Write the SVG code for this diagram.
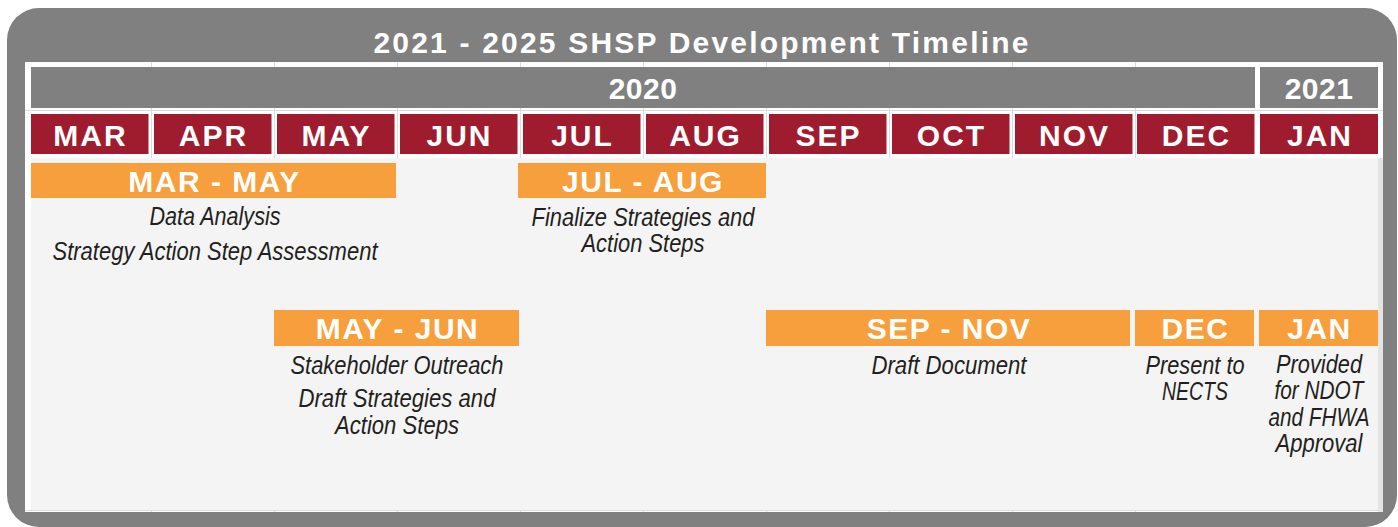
<svg xmlns="http://www.w3.org/2000/svg" width="1398" height="527" viewBox="0 0 1398 527">
<style>
.bold{font-family:"Liberation Sans",Arial,sans-serif;font-weight:bold;fill:#ffffff;text-anchor:middle}
.title{font-size:30px;letter-spacing:2.2px}
.year{font-size:30px;letter-spacing:0.5px}
.mon{font-size:30px;letter-spacing:2px}
.span{font-size:30px;letter-spacing:1.5px}
.desc{font-family:"Liberation Sans",Arial,sans-serif;font-style:italic;font-size:25px;fill:#231f20;text-anchor:middle}
.red{fill:#9e1c2e}
.org{fill:#f79f3d}
.hdr{fill:#808080}
.grid{stroke:#dcdcdc;stroke-width:1}
</style>
<rect x="7" y="8" width="1390" height="519" rx="32" fill="#808080"/>
<rect x="25" y="62" width="1358" height="450" fill="#ffffff"/>
<g class="grid">
<line x1="151.5" y1="62" x2="151.5" y2="512"/><line x1="274.5" y1="62" x2="274.5" y2="512"/><line x1="397.5" y1="62" x2="397.5" y2="512"/><line x1="520.5" y1="62" x2="520.5" y2="512"/><line x1="643.5" y1="62" x2="643.5" y2="512"/><line x1="766.5" y1="62" x2="766.5" y2="512"/><line x1="889.5" y1="62" x2="889.5" y2="512"/><line x1="1012.5" y1="62" x2="1012.5" y2="512"/><line x1="1135.5" y1="62" x2="1135.5" y2="512"/>
<line x1="25" y1="110.5" x2="1383" y2="110.5"/><line x1="25" y1="510.5" x2="1383" y2="510.5"/>
</g>
<rect x="31" y="158" width="1347" height="352" fill="#f4f4f4"/>
<rect x="1378" y="158" width="5" height="354" fill="#e4e4e4"/>
<text class="bold title" x="702" y="53">2021 - 2025 SHSP Development Timeline</text>
<g id="year-2020"><rect class="hdr" x="31" y="67" width="1224" height="41"/><text class="bold year" x="643" y="99">2020</text></g>
<g id="year-2021"><rect class="hdr" x="1260" y="67" width="118" height="41"/><text class="bold year" x="1319" y="99">2021</text></g>
<g id="months">
<g id="m-mar"><rect class="red" x="31" y="114" width="117.5" height="40"/><text class="bold mon" x="90.5" y="146">MAR</text></g>
<g id="m-apr"><rect class="red" x="154" y="114" width="117.5" height="40"/><text class="bold mon" x="213.5" y="146">APR</text></g>
<g id="m-may"><rect class="red" x="277" y="114" width="117.5" height="40"/><text class="bold mon" x="336.5" y="146">MAY</text></g>
<g id="m-jun"><rect class="red" x="400" y="114" width="117.5" height="40"/><text class="bold mon" x="459.5" y="146">JUN</text></g>
<g id="m-jul"><rect class="red" x="523" y="114" width="117.5" height="40"/><text class="bold mon" x="582.5" y="146">JUL</text></g>
<g id="m-aug"><rect class="red" x="646" y="114" width="117.5" height="40"/><text class="bold mon" x="705.5" y="146">AUG</text></g>
<g id="m-sep"><rect class="red" x="769" y="114" width="117.5" height="40"/><text class="bold mon" x="828.5" y="146">SEP</text></g>
<g id="m-oct"><rect class="red" x="892" y="114" width="117.5" height="40"/><text class="bold mon" x="951.5" y="146">OCT</text></g>
<g id="m-nov"><rect class="red" x="1015" y="114" width="117.5" height="40"/><text class="bold mon" x="1074.5" y="146">NOV</text></g>
<g id="m-dec"><rect class="red" x="1137" y="114" width="117.5" height="40"/><text class="bold mon" x="1196.5" y="146">DEC</text></g>
<g id="m-jan"><rect class="red" x="1260" y="114" width="118" height="40"/><text class="bold mon" x="1320" y="146">JAN</text></g>
</g>
<g id="phase-mar-may"><rect class="org" x="31" y="163" width="365" height="35"/><text class="bold span" x="214.5" y="192">MAR - MAY</text>
<text class="desc" x="215" y="225" textLength="131" lengthAdjust="spacingAndGlyphs">Data Analysis</text>
<text class="desc" x="215" y="260" textLength="325" lengthAdjust="spacingAndGlyphs">Strategy Action Step Assessment</text></g>
<g id="phase-jul-aug"><rect class="org" x="518" y="163" width="248" height="35"/><text class="bold span" x="643" y="192">JUL - AUG</text>
<text class="desc" x="643" y="226" textLength="223" lengthAdjust="spacingAndGlyphs">Finalize Strategies and</text>
<text class="desc" x="643" y="252" textLength="123" lengthAdjust="spacingAndGlyphs">Action Steps</text></g>
<g id="phase-may-jun"><rect class="org" x="274" y="310" width="245" height="36"/><text class="bold span" x="397.5" y="339">MAY - JUN</text>
<text class="desc" x="397" y="374" textLength="213" lengthAdjust="spacingAndGlyphs">Stakeholder Outreach</text>
<text class="desc" x="397" y="407" textLength="197" lengthAdjust="spacingAndGlyphs">Draft Strategies and</text>
<text class="desc" x="397" y="434" textLength="124" lengthAdjust="spacingAndGlyphs">Action Steps</text></g>
<g id="phase-sep-nov"><rect class="org" x="766" y="310" width="364" height="36"/><text class="bold span" x="949" y="339">SEP - NOV</text>
<text class="desc" x="949" y="374" textLength="155" lengthAdjust="spacingAndGlyphs">Draft Document</text></g>
<g id="phase-dec"><rect class="org" x="1135" y="310" width="119" height="36"/><text class="bold span" x="1195.5" y="339">DEC</text>
<text class="desc" x="1195" y="374" textLength="99" lengthAdjust="spacingAndGlyphs">Present to</text>
<text class="desc" x="1195" y="400" textLength="66" lengthAdjust="spacingAndGlyphs">NECTS</text></g>
<g id="phase-jan"><rect class="org" x="1259" y="310" width="119" height="36"/><text class="bold span" x="1319.5" y="339">JAN</text>
<text class="desc" x="1319" y="373" textLength="86" lengthAdjust="spacingAndGlyphs">Provided</text>
<text class="desc" x="1319" y="399" textLength="89" lengthAdjust="spacingAndGlyphs">for NDOT</text>
<text class="desc" x="1319" y="426" textLength="101" lengthAdjust="spacingAndGlyphs">and FHWA</text>
<text class="desc" x="1319" y="452" textLength="87" lengthAdjust="spacingAndGlyphs">Approval</text></g>
</svg>
